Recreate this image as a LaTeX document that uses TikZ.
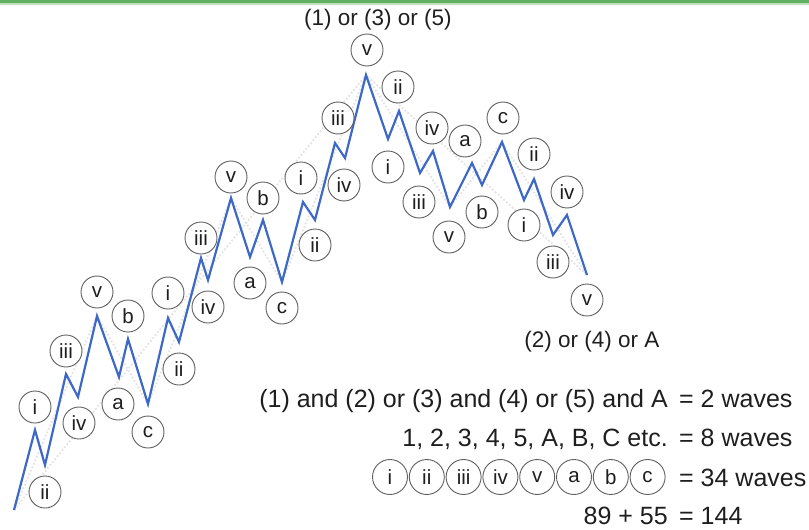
\documentclass[tikz,border=0pt]{standalone}
\usepackage{fontspec}
\setmainfont{Liberation Sans}
\definecolor{waveblue}{RGB}{62,104,200}
\definecolor{ringgray}{RGB}{95,95,95}
\definecolor{topgreen}{RGB}{96,176,96}
\definecolor{txtgray}{RGB}{30,30,30}
\tikzset{
  wave/.style={waveblue, line width=2.2pt, line join=miter},
  trend/.style={black!11, dotted, line width=1.8pt},
  wlabel/.style={circle, draw=ringgray, line width=0.9pt, fill=white, minimum size=32pt, inner sep=0pt, text=txtgray, font=\fontsize{20.5}{20}\selectfont},
  caption/.style={text=txtgray, font=\fontsize{22.5}{24}\selectfont, inner sep=0pt},
  sumtext/.style={text=txtgray, font=\fontsize{25}{26}\selectfont, inner sep=0pt}
}

\begin{document}
\begin{tikzpicture}[x=1pt,y=-1pt]
\useasboundingbox (0,0) rectangle (809,530);
\fill[topgreen] (0,0) rectangle (809,3);
\fill[topgreen!40] (0,3) rectangle (809,4.5);

% wave points and their labels
\coordinate (p0) at (14,510);
\foreach \x/\y/\lx/\ly/\t [count=\n] in {
  35/430/35/407/i, 45/465/45/492/ii, 66/374/66/351/iii, 78/397/79/423/iv, 97/316/97/292/v,
  119/377/118/404/a, 128/339/128/316/b, 148/404/148/432/c,
  168/318/168/293/i, 179/342/179/369/ii, 201/258/201/238/iii, 208/280/208/307/iv, 231/198/231/177/v,
  250/257/250/283/a, 263/220/263/198/b, 282/282/282/308/c,
  303/202/301/178/i, 315/220/315/245/ii, 335/143/338/118/iii, 345/158/344/185/iv, 366/75/367/50/v,
  388/139/388/167/i, 399/111/398/87/ii, 420/173/419/202/iii, 433/151/432/128/iv, 450/207/449/237/v,
  472/163/465/141/a, 482/185/482/212/b, 502/142/503/118/c,
  524/200/524/225/i, 534/179/534/154/ii, 553/235/553/262/iii, 567/215/567/192/iv, 587/275/587/300/v}
  {\coordinate (p\n) at (\x,\y);
   \coordinate (q\n) at (\lx,\ly);}

% trend lines
\draw[trend] (p0) -- (p21) -- (p34);
\draw[trend] (p0) -- (p5) -- (p8) -- (p13) -- (p16) -- (p21) -- (p26) -- (p29) -- (p34);

\draw[wave] (p0) \foreach \n in {1,...,34}{ -- (p\n)};

\foreach \t [count=\n] in {i,ii,iii,iv,v,a,b,c,i,ii,iii,iv,v,a,b,c,i,ii,iii,iv,v,i,ii,iii,iv,v,a,b,c,i,ii,iii,iv,v}
  \node[wlabel] (l\n) at (q\n) {\t};

\node[caption, anchor=base] (top) at (378,25) {(1) or (3) or (5)};
\node[caption, anchor=base] (low) at (592,347) {(2) or (4) or A};

% counting
\node[sumtext, anchor=base east] (s1) at (668,407) {(1) and (2) or (3) and (4) or (5) and A};
\node[sumtext, anchor=base west] (r1) at (679,407) {= 2 waves};
\node[sumtext, anchor=base east] (s2) at (668,446) {1, 2, 3, 4, 5, A, B, C etc.};
\node[sumtext, anchor=base west] (r2) at (679,446) {= 8 waves};
\foreach \t [count=\k] in {i,ii,iii,iv,v,a,b,c}
  \node[wlabel, minimum size=35pt] (k\k) at ({390+(\k-1)*36.8},477) {\t};
\node[sumtext, anchor=base west] (r3) at (679,486) {= 34 waves};
\node[sumtext, anchor=base east] (s4) at (668,524) {89 + 55};
\node[sumtext, anchor=base west] (r4) at (679,524) {= 144};
\end{tikzpicture}
\end{document}
